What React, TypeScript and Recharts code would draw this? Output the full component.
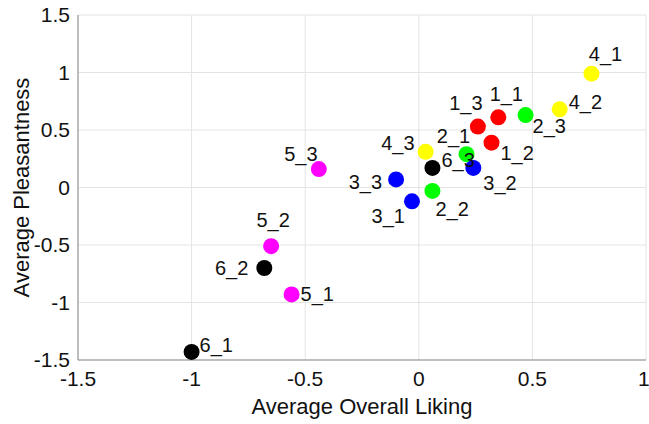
import {
  CartesianGrid,
  Scatter,
  ScatterChart,
  XAxis,
  YAxis,
} from "recharts";

// sample labels, grouped by the first digit (colour group)
const names = [
  "1_1", "1_2", "1_3",
  "2_1", "2_2", "2_3",
  "3_1", "3_2", "3_3",
  "4_1", "4_2", "4_3",
  "5_1", "5_2", "5_3",
  "6_1", "6_2", "6_3",
];
const overallLiking = [
  0.35, 0.32, 0.26,
  0.21, 0.06, 0.47,
  -0.03, 0.24, -0.1,
  0.76, 0.62, 0.03,
  -0.56, -0.65, -0.44,
  -1.0, -0.68, 0.06,
];
const pleasantness = [
  0.61, 0.39, 0.53,
  0.29, -0.03, 0.63,
  -0.12, 0.17, 0.07,
  0.99, 0.68, 0.31,
  -0.93, -0.51, 0.16,
  -1.43, -0.7, 0.17,
];
const groups = ["1", "2", "3", "4", "5", "6"];
const groupColors = ["#ff0000", "#00ff00", "#0000ff", "#ffff00", "#ff00ff", "#000000"];

const xTicks = [-1.5, -1, -0.5, 0, 0.5, 1];
const yTicks = [-1.5, -1, -0.5, 0, 0.5, 1, 1.5];

// where each text label sits relative to its dot (pixels)
const labelPlace: Record<string, { dx: number; dy: number; anchor: string }> = {
  "1_1": { dx: 8, dy: -16, anchor: "middle" },
  "1_2": { dx: 9, dy: 17, anchor: "start" },
  "1_3": { dx: -12, dy: -17, anchor: "middle" },
  "2_1": { dx: -13, dy: -11, anchor: "middle" },
  "2_2": { dx: 3, dy: 25, anchor: "start" },
  "2_3": { dx: 7, dy: 18, anchor: "start" },
  "3_1": { dx: -7, dy: 22, anchor: "end" },
  "3_2": { dx: 10, dy: 22, anchor: "start" },
  "3_3": { dx: -14, dy: 10, anchor: "end" },
  "4_1": { dx: 14, dy: -13, anchor: "middle" },
  "4_2": { dx: 9, dy: 0, anchor: "start" },
  "4_3": { dx: -11, dy: -2, anchor: "end" },
  "5_1": { dx: 9, dy: 7, anchor: "start" },
  "5_2": { dx: 2, dy: -19, anchor: "middle" },
  "5_3": { dx: -18, dy: -8, anchor: "middle" },
  "6_1": { dx: 8, dy: 0, anchor: "start" },
  "6_2": { dx: -16, dy: 7, anchor: "end" },
  "6_3": { dx: 9, dy: -1, anchor: "start" },
};

const FONT = '"Liberation Sans", Arial, sans-serif';
const TEXT = "#111";
const BOX = "#8a8a8a";

const seriesFor = (g: string) =>
  names
    .map((name, i) => ({ name, x: overallLiking[i], y: pleasantness[i] }))
    .filter((d) => d.name.startsWith(g + "_"));

const Dot = (props: any) => {
  const { cx, cy, fill, payload } = props;
  const p = labelPlace[payload.name];
  return (
    <g>
      <circle cx={cx} cy={cy} r={8} fill={fill} />
      <text
        x={cx + p.dx}
        y={cy + p.dy}
        textAnchor={p.anchor}
        fontSize={20}
        fontFamily={FONT}
        fill={TEXT}
      >
        {payload.name}
      </text>
    </g>
  );
};

export default function App() {
  return (
    <div style={{ position: "absolute", left: 0, top: 0, background: "#fff" }}>
      <ScatterChart
        width={649}
        height={424}
        margin={{ top: 15, right: 3, bottom: 0, left: 0 }}
      >
        <CartesianGrid stroke="#e4e4e4" />
        <XAxis
          type="number"
          dataKey="x"
          domain={[-1.5, 1]}
          ticks={xTicks}
          allowDataOverflow
          height={64}
          axisLine={{ stroke: BOX }}
          tickLine={false}
          tickMargin={5}
          tick={{ fontSize: 21, fontFamily: FONT, fill: TEXT }}
          label={{
            value: "Average Overall Liking",
            position: "insideBottom",
            offset: 10,
            fontSize: 22,
            fontFamily: FONT,
            fill: TEXT,
          }}
        />
        <XAxis
          xAxisId="top"
          orientation="top"
          type="number"
          domain={[-1.5, 1]}
          ticks={xTicks}
          height={0}
          axisLine={{ stroke: BOX }}
          tickLine={false}
          tick={false}
        />
        <YAxis
          type="number"
          dataKey="y"
          domain={[-1.5, 1.5]}
          ticks={yTicks}
          allowDataOverflow
          width={78}
          axisLine={{ stroke: BOX }}
          tickLine={false}
          tick={{ fontSize: 21, fontFamily: FONT, fill: TEXT }}
          label={{
            value: "Average Pleasantness",
            position: "insideLeft",
            angle: -90,
            offset: 16,
            dx: 5,
            fontSize: 22,
            fontFamily: FONT,
            fill: TEXT,
            style: { textAnchor: "middle" },
          }}
        />
        <YAxis
          yAxisId="right"
          orientation="right"
          type="number"
          domain={[-1.5, 1.5]}
          ticks={yTicks}
          width={0}
          axisLine={{ stroke: BOX }}
          tickLine={false}
          tick={false}
        />
        {groups.map((g, i) => (
          <Scatter
            key={g}
            data={seriesFor(g)}
            fill={groupColors[i]}
            shape={Dot}
            isAnimationActive={false}
          />
        ))}
      </ScatterChart>
    </div>
  );
}
